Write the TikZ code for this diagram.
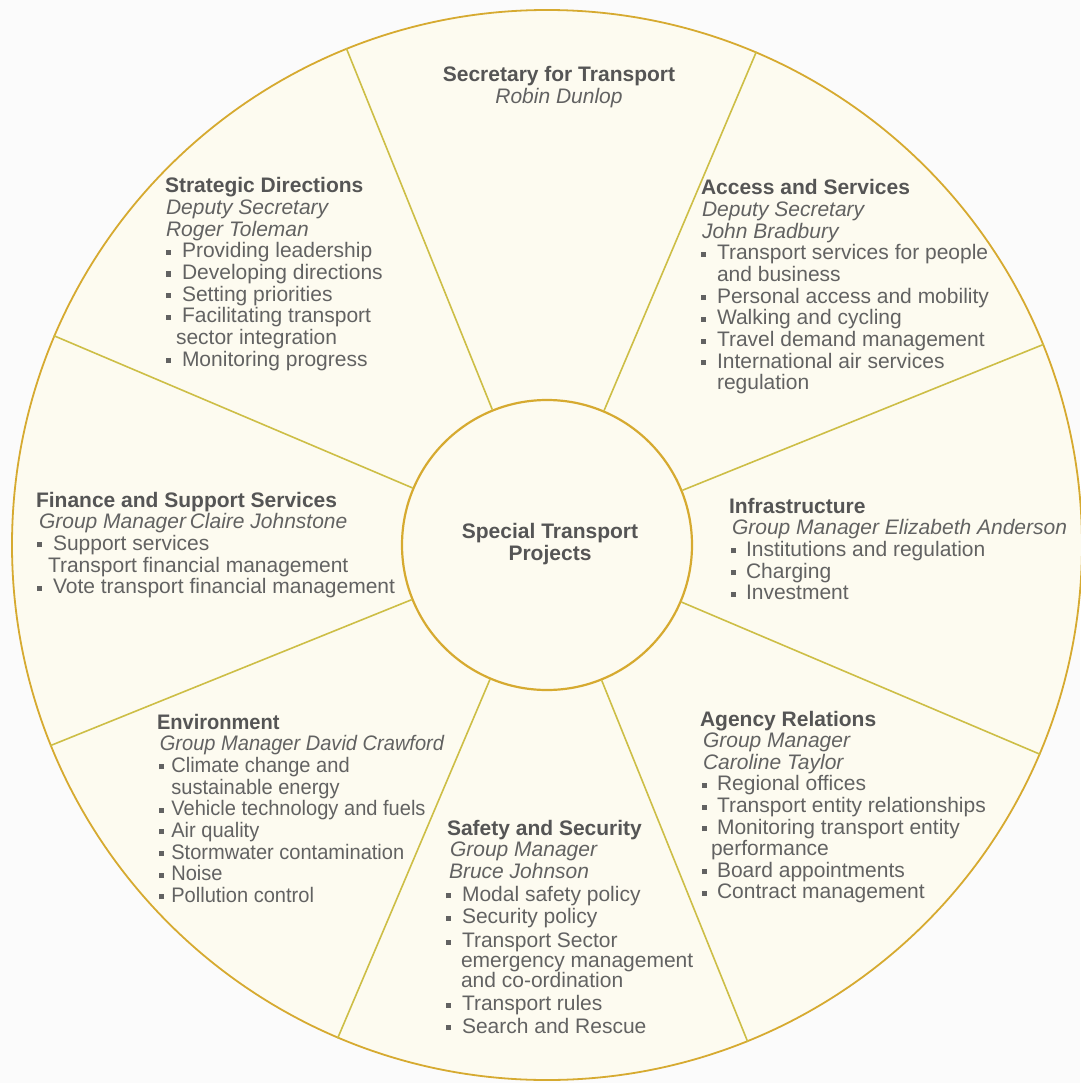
\documentclass[tikz,border=0pt]{standalone}
\usepackage{fontspec}
\setmainfont{Liberation Sans}
\usepackage{array}
\usepackage{graphicx}
\definecolor{bgc}{RGB}{251,251,251}
\definecolor{cream}{RGB}{253,251,240}
\definecolor{ringc}{RGB}{214,170,48}
\definecolor{spokec}{RGB}{205,190,70}
\definecolor{txtc}{RGB}{98,98,98}
\definecolor{ttlc}{RGB}{85,85,85}
\newcommand\bsq{\rule[3pt]{5pt}{5pt}}
\newcommand\bit[2]{\makebox[#1][l]{\bsq}#2}
\newcommand\ttl[1]{\textcolor{ttlc}{\bfseries #1}}
\begin{document}
\begin{tikzpicture}[x=1pt,y=-1pt,
  blk/.style={anchor=base west, inner sep=0pt, outer sep=0pt, text=txtc, font=\fontsize{21pt}{21.5pt}\selectfont},
  cblk/.style={anchor=base, inner sep=0pt, outer sep=0pt, text=txtc, font=\fontsize{21pt}{21.5pt}\selectfont},
  ring/.style={circle, draw=ringc, fill=cream, inner sep=0pt},
  spoke/.style={draw=spokec, line width=1.6pt}]
\useasboundingbox (0,0) rectangle (1080,1083);
\fill[bgc] (0,0) rectangle (1080,1083);
\node[ring, line width=1.8pt, minimum size=1070pt] (outer) at (547,545) {};
\node[ring, line width=2.2pt, minimum size=290pt] (inner) at (547,545) {};
\foreach \a in {22.5,67.5,112.5,157.5,202.5,247.5,292.5,337.5}
  \draw[spoke] (inner.\a) -- (outer.\a);

% centre
\node[cblk] (centre) at (550,538) {\begin{tabular}[t]{@{}c@{}}\ttl{Special Transport}\\[0.5pt]\ttl{Projects}\end{tabular}};

% top
\node[cblk] (sec) at (559,82) {\begin{tabular}[t]{@{}c@{}}\ttl{Secretary for Transport}\\\textit{Robin Dunlop}\end{tabular}};

% strategic directions
\node[blk] (strat) at (165,193) {\begin{tabular}[t]{@{}l@{}}
\ttl{Strategic Directions}\\
\hspace*{1pt}\textit{Deputy Secretary}\\
\hspace*{1pt}\textit{Roger Toleman}\\
\hspace*{1pt}\bit{16pt}{Providing leadership}\\
\hspace*{1pt}\bit{16pt}{Developing directions}\\
\hspace*{1pt}\bit{16pt}{Setting priorities}\\
\hspace*{1pt}\bit{16pt}{Facilitating transport}\\
\hspace*{11pt}sector integration\\
\hspace*{1pt}\bit{16pt}{Monitoring progress}
\end{tabular}};

% access and services
\node[blk] (access) at (701,195) {\begin{tabular}[t]{@{}l@{}}
\ttl{Access and Services}\\
\hspace*{1pt}\textit{Deputy Secretary}\\
\hspace*{1pt}\textit{John Bradbury}\\
\bit{16pt}{Transport services for people}\\
\hspace*{16pt}and business\\
\bit{16pt}{Personal access and mobility}\\
\bit{16pt}{Walking and cycling}\\
\bit{16pt}{Travel demand management}\\
\bit{16pt}{International air services}\\
\hspace*{16pt}regulation
\end{tabular}};

% infrastructure
\node[blk] (infra) at (729,513) {\begin{tabular}[t]{@{}l@{}}
\ttl{Infrastructure}\\
\hspace*{3pt}\textit{Group Manager Elizabeth Anderson}\\
\hspace*{2pt}\bit{15pt}{Institutions and regulation}\\
\hspace*{2pt}\bit{15pt}{Charging}\\
\hspace*{2pt}\bit{15pt}{Investment}
\end{tabular}};

% agency relations
\node[blk] (agency) at (700,726) {\begin{tabular}[t]{@{}l@{}}
\ttl{Agency Relations}\\
\hspace*{3pt}\textit{Group Manager}\\
\hspace*{3pt}\textit{Caroline Taylor}\\
\hspace*{2pt}\bit{15pt}{Regional offices}\\
\hspace*{2pt}\bit{15pt}{Transport entity relationships}\\
\hspace*{2pt}\bit{15pt}{Monitoring transport entity}\\
\hspace*{11pt}performance\\
\hspace*{2pt}\bit{15pt}{Board appointments}\\
\hspace*{2pt}\bit{15pt}{Contract management}
\end{tabular}};

% safety and security
\node[blk] (safety) at (447,835) {\begin{tabular}[t]{@{}l@{}}
\ttl{Safety and Security}\\
\hspace*{3pt}\textit{Group Manager}\\
\hspace*{2pt}\textit{Bruce Johnson}\\[1.5pt]
\hspace*{-1pt}\bit{16pt}{Modal safety policy}\\[0.5pt]
\hspace*{-1pt}\bit{16pt}{Security policy}\\[2.5pt]
\hspace*{-1pt}\bit{16pt}{Transport Sector}\\[-1.5pt]
\hspace*{14pt}emergency management\\[-1.5pt]
\hspace*{14pt}and co-ordination\\[1.5pt]
\hspace*{-1pt}\bit{16pt}{Transport rules}\\[0.5pt]
\hspace*{-1pt}\bit{16pt}{Search and Rescue}
\end{tabular}};

% environment
\node[blk] (env) at (157,729) {\scalebox{0.955}[1]{\begin{tabular}[t]{@{}l@{}}
\ttl{Environment}\\
\hspace*{3pt}\textit{Group Manager David Crawford}\\
\hspace*{2pt}\bit{13pt}{Climate change and}\\
\hspace*{15pt}sustainable energy\\
\hspace*{2pt}\bit{13pt}{Vehicle technology and fuels}\\
\hspace*{2pt}\bit{13pt}{Air quality}\\
\hspace*{2pt}\bit{13pt}{Stormwater contamination}\\
\hspace*{2pt}\bit{13pt}{Noise}\\
\hspace*{2pt}\bit{13pt}{Pollution control}
\end{tabular}}};

% finance
\node[blk] (fin) at (36,507) {\begin{tabular}[t]{@{}l@{}}
\ttl{Finance and Support Services}\\
\hspace*{3pt}\textit{Group Manager}\hspace{3pt}\textit{Claire Johnstone}\\
\hspace*{1pt}\bit{16pt}{Support services}\\
\hspace*{12pt}Transport financial management\\
\hspace*{1pt}\bit{16pt}{Vote transport financial management}
\end{tabular}};
\end{tikzpicture}
\end{document}
